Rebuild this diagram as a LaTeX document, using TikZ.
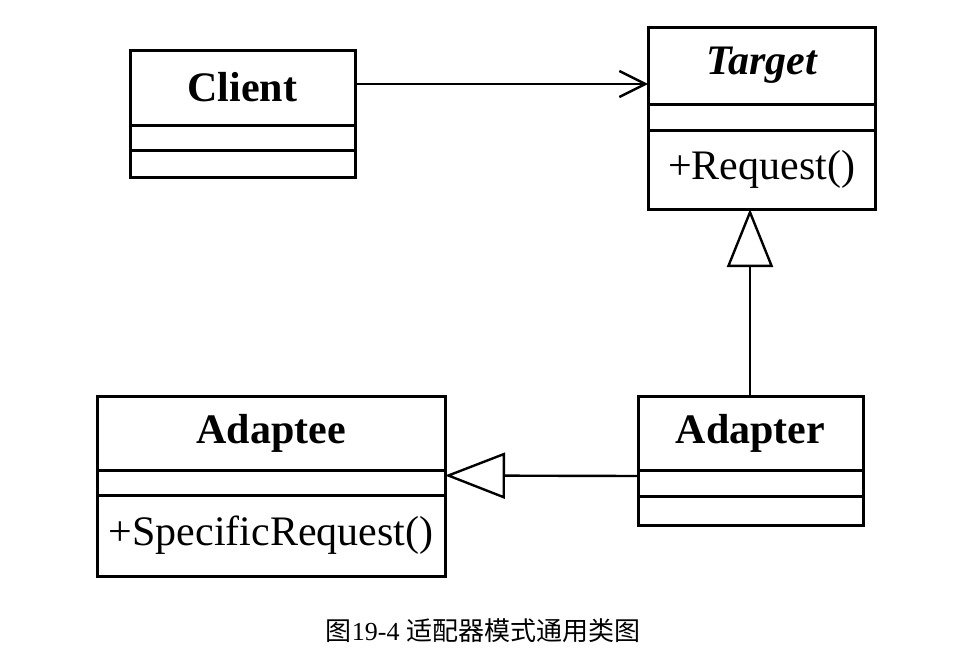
\documentclass[tikz,border=0pt]{standalone}
\usepackage{fontspec}
\setmainfont{Liberation Serif}
\newfontfamily\cjk{Noto Sans CJK SC}
\usetikzlibrary{positioning, shapes, arrows.meta}
\tikzstyle{every node}=[rectangle, inner sep=0pt, outer sep=0pt, font=\fontsize{42}{44}\selectfont]
\tikzstyle{box}=[draw, line width=3pt]

\begin{document}
\begin{tikzpicture}[x=1pt, y=-1pt]
	\useasboundingbox (0,0) rectangle (977,656);
	\node	[box, minimum width=225pt, minimum height=75pt]	(CT) at (242.5,87.5) {\bfseries Client};
	\node	[box, minimum width=225pt, minimum height=25pt]	(CA) [below=0pt of CT] {};
	\node	[box, minimum width=225pt, minimum height=27pt]	(CO) [below=0pt of CA] {};
	\node	[box, minimum width=227pt, minimum height=77pt]	(TT) at (761.5,65.5) {\bfseries\itshape Target};
	\node	[box, minimum width=227pt, minimum height=26pt]	(TA) [below=0pt of TT] {};
	\node	[box, minimum width=227pt, minimum height=79pt]	(TO) [below=0pt of TA] {+Request()};
	\node	[box, minimum width=225pt, minimum height=74pt]	(RT) at (750.5,433) {\bfseries Adapter};
	\node	[box, minimum width=225pt, minimum height=26pt]	(RA) [below=0pt of RT] {};
	\node	[box, minimum width=225pt, minimum height=29pt]	(RO) [below=0pt of RA] {};
	\node	[box, minimum width=348pt, minimum height=74pt]	(ET) at (271,433) {\bfseries Adaptee};
	\node	[box, minimum width=348pt, minimum height=25pt]	(EA) [below=0pt of ET] {};
	\node	[box, minimum width=348pt, minimum height=81pt]	(EO) [below=0pt of EA] {+SpecificRequest()};
	\node	[font=\fontsize{26}{28}\selectfont]	(cap) at (483,631) {{\cjk 图}19-4 {\cjk 适配器模式通用类图}};
	\draw[-{Straight Barb[length=26pt, width=26pt]}, line width=2.4pt] (CT.east |- 0,84) -- (TT.west |- 0,84);
	\draw[-{Triangle[open, length=58pt, width=46pt]}, line width=2.4pt] (RT.north -| 750,0) -- (TO.south -| 750,0);
	\draw[-{Triangle[open, length=60pt, width=46pt]}, line width=2.4pt] ([yshift=7pt]RA.west) -- ([yshift=7pt]EA.east);
\end{tikzpicture}
\end{document}
